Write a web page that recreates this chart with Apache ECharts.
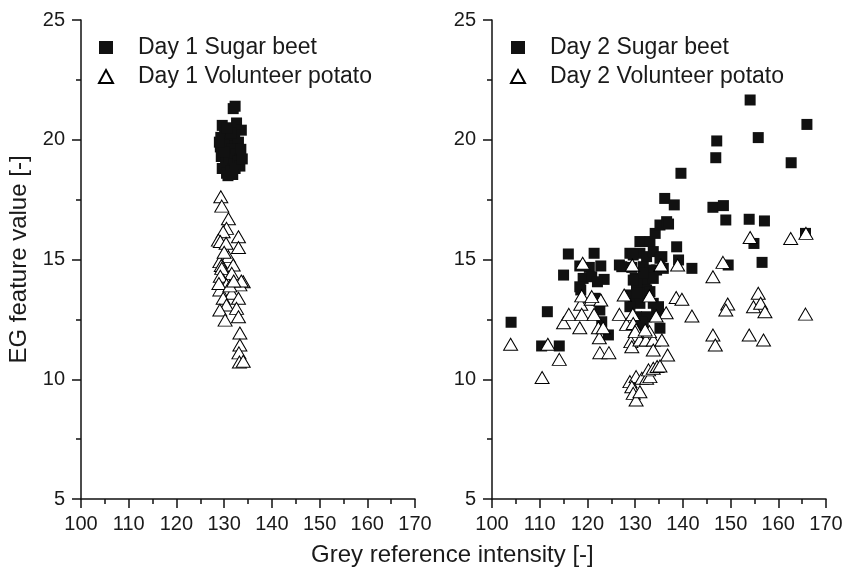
<!DOCTYPE html>
<html>
<head>
<meta charset="utf-8">
<script src="https://cdn.jsdelivr.net/npm/echarts@6/dist/echarts.min.js"></script>
<style>
    html, body { margin: 0; padding: 0; background: #fff; }
    #chart { width: 846px; height: 571px; }
</style>
</head>
<body>
<div id="chart"></div>
<script>
// --- data: [grey reference intensity, EG feature value] ---
const seriesNames = ['Day 1 Sugar beet', 'Day 1 Volunteer potato', 'Day 2 Sugar beet', 'Day 2 Volunteer potato']

const day1Beet = [
    [132.3, 21.4], [131.9, 21.3], [129.6, 20.6], [132.6, 20.7], [133.6, 20.4], [129.3, 20.1], [130.1, 20.3],
    [131.2, 20.0], [132.2, 20.2], [133.0, 19.9], [129.2, 19.7], [130.0, 19.8], [130.8, 19.5], [131.6, 19.6],
    [132.5, 19.4], [133.5, 19.6], [129.4, 19.3], [130.3, 19.1], [131.1, 19.2], [132.0, 19.0], [132.9, 19.1],
    [133.3, 18.9], [129.6, 18.8], [130.5, 18.6], [131.4, 18.7], [132.3, 18.8], [130.8, 18.5], [131.8, 18.55],
    [129.9, 19.5], [131.5, 20.3], [130.6, 20.5], [133.8, 19.2], [129.0, 19.9],
]

const day1Potato = [
    [129.3, 17.62], [129.5, 17.23], [130.9, 16.7], [130.5, 16.3], [129.8, 16.16], [128.8, 15.81], [129.2, 15.75],
    [133.0, 15.95], [133.0, 15.5], [130.4, 15.68], [130.9, 15.12], [129.1, 14.91], [129.4, 14.75], [131.9, 14.77],
    [129.5, 14.63], [131.6, 14.42], [129.8, 14.14], [129.2, 14.3], [134.0, 14.07], [133.3, 13.94], [133.6, 14.1],
    [130.5, 13.94], [129.1, 13.73], [131.6, 13.59], [129.8, 13.38], [133.0, 13.38], [130.5, 13.1], [132.6, 12.96],
    [129.1, 12.89], [133.0, 12.61], [130.2, 12.47], [133.3, 11.93], [133.3, 11.43], [133.1, 11.1], [133.2, 10.72],
    [134.0, 10.75], [128.9, 14.0], [131.2, 13.9], [130.0, 15.3], [132.0, 14.1],
]

const day2Beet = [
    [104.0, 12.38], [111.6, 12.82], [110.4, 11.39], [114.1, 11.39], [115.0, 14.35], [116.0, 15.23], [121.4, 15.26],
    [118.4, 14.73], [120.4, 14.67], [122.8, 14.73], [119.1, 14.21], [120.9, 14.28], [123.5, 14.17], [118.4, 13.86],
    [122.1, 14.07], [118.6, 13.73], [121.9, 13.31], [122.6, 12.89], [123.0, 12.4], [124.4, 11.85], [121.6, 13.38],
    [126.7, 14.77], [128.9, 15.26], [129.3, 14.67], [131.0, 15.75], [133.1, 15.75], [134.2, 16.09], [135.2, 16.44],
    [136.6, 16.58], [136.2, 17.55], [138.2, 17.28], [139.6, 18.6], [131.0, 15.26], [132.4, 15.12], [133.8, 15.33],
    [135.6, 15.12], [131.7, 14.7], [133.1, 14.56], [134.5, 14.56], [130.0, 14.21], [132.1, 14.14], [133.8, 14.21],
    [135.9, 14.63], [130.3, 13.73], [132.4, 13.73], [128.9, 13.52], [130.3, 14.01], [131.7, 14.42], [129.6, 13.45],
    [131.0, 13.17], [132.4, 13.59], [133.8, 13.17], [134.9, 12.96], [128.9, 13.03], [130.3, 12.61], [132.4, 12.61],
    [134.5, 12.75], [135.2, 12.13], [131.7, 12.19], [129.6, 14.14], [130.3, 13.59], [133.1, 13.66], [131.4, 12.4],
    [134.9, 13.03], [129.6, 15.19], [127.2, 14.7], [138.7, 15.53], [139.1, 14.98], [141.9, 14.63], [135.2, 15.05],
    [137.0, 16.48], [154.1, 21.66], [166.0, 20.64], [155.8, 20.09], [147.1, 19.95], [146.9, 19.25], [162.7, 19.04],
    [146.3, 17.18], [148.5, 17.25], [149.0, 16.65], [153.9, 16.68], [157.1, 16.61], [165.7, 16.09], [154.9, 15.67],
    [149.5, 14.77], [156.6, 14.88],
]

const day2Potato = [
    [103.9, 11.46], [110.5, 10.07], [111.7, 11.46], [114.1, 10.83], [115.0, 12.36], [116.1, 12.71], [118.4, 12.15],
    [118.6, 13.13], [118.8, 13.48], [118.8, 12.71], [120.8, 13.34], [121.4, 12.71], [122.8, 13.31], [122.3, 12.15],
    [122.5, 11.73], [123.3, 12.15], [122.6, 11.11], [124.5, 11.11], [126.7, 12.71], [127.7, 13.52], [128.2, 12.29],
    [129.5, 12.71], [129.6, 12.33], [130.2, 12.08], [129.1, 11.57], [129.3, 11.36], [131.0, 11.64], [132.3, 11.64],
    [133.8, 11.64], [133.0, 11.99], [133.8, 11.22], [135.6, 11.64], [136.8, 11.01], [136.5, 12.78], [133.0, 13.48],
    [134.4, 12.64], [138.6, 13.41], [139.8, 13.34], [141.9, 12.64], [128.9, 9.9], [130.2, 10.11], [129.3, 9.69],
    [129.6, 9.41], [130.2, 9.13], [131.0, 9.48], [131.4, 10.04], [132.4, 10.04], [133.1, 10.11], [132.8, 10.39],
    [133.8, 10.46], [134.6, 10.53], [135.2, 10.55], [146.3, 11.85], [146.8, 11.43], [149.4, 13.14], [149.0, 12.89],
    [153.9, 11.85], [154.8, 13.03], [155.8, 13.59], [156.3, 13.17], [157.2, 12.82], [156.9, 11.64], [165.7, 12.72],
    [119.0, 14.84], [129.4, 14.77], [135.4, 14.77], [138.9, 14.77], [146.3, 14.28], [148.4, 14.88], [154.1, 15.92],
    [162.6, 15.88], [165.8, 16.09], [120.9, 13.45], [130.0, 11.99], [132.1, 12.06],
]

const FONT = '"Liberation Sans", Arial, sans-serif'
const INK = '#111'

const chart = echarts.init(document.getElementById('chart'), null, { renderer: 'canvas' })

// 两个面板共用的坐标轴样式
const xAxisBase = gridIndex => ({
    type: 'value',
    gridIndex: gridIndex,
    min: 100,
    max: 170,
    interval: 10,
    axisLine: { show: true, lineStyle: { color: INK, width: 1.5 } },
    axisTick: { show: true, inside: false, length: 9, lineStyle: { color: INK, width: 1.5 } },
    minorTick: { show: true, splitNumber: 2, length: 5, lineStyle: { color: INK, width: 1.5 } },
    splitLine: { show: false },
    axisLabel: { color: '#1a1a1a', fontSize: 20, fontFamily: FONT, margin: 15 },
})

const yAxisBase = gridIndex => ({
    type: 'value',
    gridIndex: gridIndex,
    min: 5,
    max: 25,
    interval: 5,
    axisLine: { show: true, lineStyle: { color: INK, width: 1.5 } },
    axisTick: { show: true, inside: false, length: 9, lineStyle: { color: INK, width: 1.5 } },
    minorTick: { show: true, splitNumber: 2, length: 5, lineStyle: { color: INK, width: 1.5 } },
    splitLine: { show: false },
    axisLabel: { color: '#1a1a1a', fontSize: 20, fontFamily: FONT, margin: 16 },
})

const beetStyle = {
    symbol: 'rect',
    symbolSize: 11,
    itemStyle: { color: '#111', opacity: 1 },
}
const potatoStyle = {
    symbol: 'triangle',
    symbolSize: [14, 12],
    itemStyle: { color: '#fff', borderColor: '#000', borderWidth: 1, opacity: 1 },
}

const legendBase = {
    orient: 'vertical',
    top: 36,
    padding: 0,
    itemGap: 6,
    itemWidth: 14,
    itemHeight: 13,
    textStyle: { color: '#1a1a1a', fontSize: 23, fontFamily: FONT, padding: [0, 0, 0, 20] },
}

const option = {
    animation: false,
    backgroundColor: '#fff',
    title: {
        text: 'Grey reference intensity [-]',
        left: 311,
        top: 543,
        padding: 0,
        textStyle: { color: '#1a1a1a', fontSize: 24, fontWeight: 'normal', fontFamily: FONT },
    },
    legend: [
        Object.assign({}, legendBase, { left: 98, data: [seriesNames[0], seriesNames[1]] }),
        Object.assign({}, legendBase, { left: 510, data: [seriesNames[2], seriesNames[3]] }),
    ],
    grid: [
        { left: 81, top: 20, width: 334, height: 479 },
        { left: 492, top: 20, width: 334, height: 479 },
    ],
    xAxis: [xAxisBase(0), xAxisBase(1)],
    yAxis: [
        Object.assign(yAxisBase(0), {
            name: 'EG feature value [-]',
            nameLocation: 'middle',
            nameGap: 50,
            nameTextStyle: { color: '#1a1a1a', fontSize: 24, fontFamily: FONT },
        }),
        yAxisBase(1),
    ],
    series: [
        Object.assign({ name: seriesNames[0], type: 'scatter', xAxisIndex: 0, yAxisIndex: 0, data: day1Beet }, beetStyle),
        Object.assign({ name: seriesNames[1], type: 'scatter', xAxisIndex: 0, yAxisIndex: 0, data: day1Potato }, potatoStyle),
        Object.assign({ name: seriesNames[2], type: 'scatter', xAxisIndex: 1, yAxisIndex: 1, data: day2Beet }, beetStyle),
        Object.assign({ name: seriesNames[3], type: 'scatter', xAxisIndex: 1, yAxisIndex: 1, data: day2Potato }, potatoStyle),
    ],
}

chart.setOption(option)
</script>
</body>
</html>
